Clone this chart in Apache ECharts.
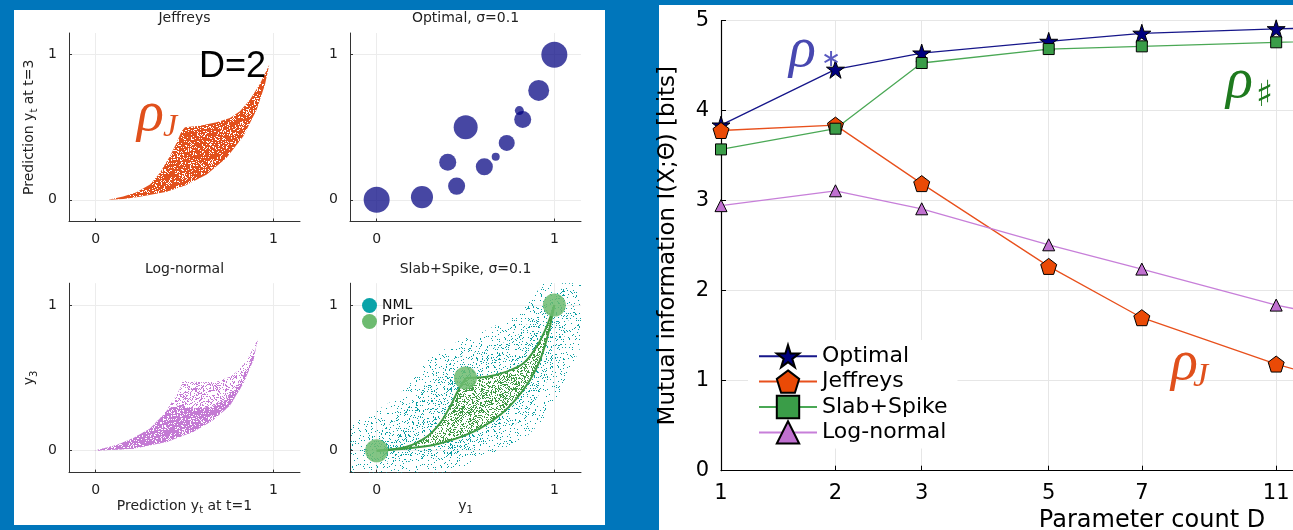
<!DOCTYPE html>
<html>
<head>
<meta charset="utf-8">
<script src="https://cdn.jsdelivr.net/npm/echarts@6/dist/echarts.min.js"></script>
<style>
  html, body { margin: 0; padding: 0; background: #0076bb; }
  #chart { width: 1293px; height: 530px; }
</style>
</head>
<body>
<div id="chart"></div>
<script>
// ---------- Main panel: mutual information vs parameter count ----------
const paramCounts = [1, 2, 3, 5, 7, 11, 15];
const optimalMI   = [3.84, 4.46, 4.64, 4.77, 4.86, 4.91, 4.93];
const jeffreysMI  = [3.78, 3.84, 3.19, 2.27, 1.70, 1.185, 0.88];
const slabSpikeMI = [3.57, 3.80, 4.53, 4.685, 4.715, 4.76, 4.79];
const logNormalMI = [2.945, 3.11, 2.91, 2.51, 2.24, 1.84, 1.62];
const countTicks  = [1, 2, 3, 5, 7, 11];

// ---------- Small panels (D=2): predictions at t=1 vs t=3 ----------
// Jeffreys prior: outline of the sampled region
const jeffreysRegion = [
  [0.071, 0.0], [0.155, 0.005], [0.249, 0.02], [0.40, 0.055], [0.507, 0.10],
  [0.625, 0.174], [0.737, 0.289], [0.831, 0.438], [0.906, 0.621], [0.953, 0.794],
  [0.977, 0.931], [0.925, 0.80], [0.868, 0.69], [0.812, 0.61], [0.756, 0.564],
  [0.681, 0.534], [0.587, 0.511], [0.503, 0.50], [0.483, 0.472], [0.455, 0.392],
  [0.418, 0.30], [0.362, 0.186], [0.306, 0.105], [0.23, 0.052], [0.155, 0.022]
];
// Optimal prior atoms: [y1, y3, weight]
const optimalAtoms = [
  [0.0, 0.0, 1.0], [0.255, 0.018, 0.72], [0.45, 0.094, 0.43], [0.40, 0.259, 0.43],
  [0.501, 0.50, 0.85], [0.606, 0.227, 0.43], [0.67, 0.296, 0.095], [0.732, 0.392, 0.38],
  [0.822, 0.553, 0.43], [0.803, 0.615, 0.12], [0.912, 0.754, 0.65], [1.0, 1.0, 1.0]
];
// Log-normal prior: full sampled region and its dense lower band
const logNormalRegion = [
  [-0.01, 0.0], [0.21, 0.013], [0.40, 0.06], [0.55, 0.13], [0.66, 0.21], [0.756, 0.31],
  [0.83, 0.46], [0.887, 0.62], [0.915, 0.77], [0.85, 0.62], [0.803, 0.55], [0.756, 0.508],
  [0.68, 0.474], [0.60, 0.47], [0.49, 0.48], [0.475, 0.428], [0.437, 0.348], [0.38, 0.245],
  [0.306, 0.153], [0.21, 0.085], [0.118, 0.04], [0.025, 0.01]
];
const logNormalCore = [
  [-0.01, 0.0], [0.21, 0.013], [0.40, 0.06], [0.55, 0.13], [0.66, 0.21], [0.756, 0.31],
  [0.83, 0.46], [0.887, 0.62], [0.915, 0.77], [0.90, 0.70], [0.86, 0.58], [0.80, 0.45],
  [0.73, 0.35], [0.65, 0.30], [0.55, 0.29], [0.46, 0.31], [0.41, 0.29], [0.38, 0.245],
  [0.306, 0.153], [0.21, 0.085], [0.118, 0.04], [0.025, 0.01]
];
// Slab+Spike: NML spread and prior support
const nmlOuter = [
  [-0.15, -0.15], [-0.15, 0.19], [-0.057, 0.233], [0.094, 0.347], [0.188, 0.462],
  [0.282, 0.622], [0.376, 0.692], [0.47, 0.76], [0.582, 0.806], [0.694, 0.875],
  [0.807, 0.943], [0.882, 1.06], [0.938, 1.15], [1.15, 1.15], [1.15, 0.716],
  [1.089, 0.555], [1.032, 0.395], [0.938, 0.212], [0.845, 0.097], [0.732, 0.028],
  [0.619, -0.04], [0.507, -0.098], [0.413, -0.15]
];
const nmlCore = [
  [-0.08, -0.06], [-0.06, 0.08], [0.1, 0.2], [0.25, 0.42], [0.38, 0.6], [0.5, 0.66],
  [0.65, 0.7], [0.8, 0.8], [0.92, 0.98], [1.05, 1.12], [1.1, 1.0], [1.05, 0.75],
  [0.97, 0.5], [0.87, 0.3], [0.75, 0.14], [0.6, 0.04], [0.4, -0.04], [0.15, -0.08]
];
const priorLeftCurve  = [[0, 0], [0.169, 0.027], [0.282, 0.096], [0.356, 0.188], [0.413, 0.302], [0.46, 0.417], [0.503, 0.50]];
const priorUpperCurve = [[0.503, 0.50], [0.619, 0.508], [0.732, 0.543], [0.826, 0.60], [0.90, 0.714], [0.957, 0.852], [1.0, 1.0]];
const priorLowerCurve = [[0, 0], [0.169, 0.016], [0.319, 0.039], [0.45, 0.085], [0.582, 0.154], [0.694, 0.245], [0.788, 0.36], [0.863, 0.486], [0.92, 0.623], [0.966, 0.806], [1.0, 1.0]];
const priorSpikes = [[0, 0], [0.5, 0.5], [1, 1]];
const unitTicks = [0, 1];

// ---------- helpers ----------
// horizontal position of a parameter count on the main axis
const countPos = d => Math.log((d + 1.6) / 2.6);
const countFromPos = v => Math.round(2.6 * Math.exp(v) - 1.6);
const countAxisMax = 1.626;   // right edge of the visible panel

const STAR = 'path://M0,-10L2.245,-3.09L9.511,-3.09L3.633,1.18L5.878,8.09L0,3.82L-5.878,8.09L-3.633,1.18L-9.511,-3.09L-2.245,-3.09Z';
const PENTAGON = 'path://M0,-10L9.511,-3.09L5.878,8.09L-5.878,8.09L-9.511,-3.09Z';
const SANS = 'DejaVu Sans';
const SERIF = 'Liberation Serif';

// speckled texture used to fill the sample clouds
function speckleHash(i, j) {
  let h = Math.imul(i, 374761393) + Math.imul(j, 668265263);
  h = Math.imul(h ^ (h >>> 13), 1274126177);
  h ^= h >>> 16;
  return (h >>> 0) / 4294967296;
}
function stipple(color, coverage) {
  const size = 64;
  const c = document.createElement('canvas');
  c.width = c.height = size;
  const g = c.getContext('2d');
  g.fillStyle = color;
  for (let j = 0; j < size; j++) {
    for (let i = 0; i < size; i++) {
      if (speckleHash(i, j) < coverage) g.fillRect(i, j, 1, 1);
    }
  }
  return { image: c, repeat: 'repeat' };
}

function regionSeries(name, grid, pts, fill, opacity, color, z) {
  return {
    type: 'custom', name, xAxisIndex: grid, yAxisIndex: grid, z: z || 2,
    silent: true, data: [0], itemStyle: { color },
    renderItem: (params, api) => ({
      type: 'polygon',
      shape: { points: pts.map(p => api.coord(p)) },
      style: { fill, opacity }
    })
  };
}

const subRich = {
  n: { fontSize: 14, fontFamily: SANS, color: '#222' },
  s: { fontSize: 10, fontFamily: SANS, color: '#222', padding: [9, 0, 0, 0] }
};
function smallAxis(grid, name, gap, margin) {
  return {
    gridIndex: grid, type: 'value', min: -0.15, max: 1.15,
    axisLine: { show: true, onZero: false, lineStyle: { color: '#333', width: 1 } },
    axisTick: { show: true, inside: true, length: 3, customValues: unitTicks, lineStyle: { color: '#333' } },
    axisLabel: { customValues: unitTicks, fontSize: 14, color: '#222', fontFamily: SANS, margin },
    splitLine: { show: true, lineStyle: { color: '#ececec', width: 1 } },
    name: name || '', nameLocation: 'middle', nameGap: gap,
    nameTextStyle: { rich: subRich }
  };
}

const mainLine = (name, values, symbol, size, lineColor, fill) => ({
  name, type: 'line', xAxisIndex: 4, yAxisIndex: 4,
  data: paramCounts.map((d, i) => [countPos(d), values[i]]),
  symbol, symbolSize: size, showSymbol: true,
  lineStyle: { color: lineColor, width: 1.3 },
  itemStyle: { color: fill, borderColor: '#000', borderWidth: 1 },
  clip: true
});

const txt = (x, y, text, o) => ({
  type: 'text', x, y, z: 100,
  style: Object.assign({ text, fill: '#222', fontFamily: SANS, fontSize: 14, align: 'center', verticalAlign: 'middle' }, o || {})
});

const chart = echarts.init(document.getElementById('chart'), null, { renderer: 'canvas' });
chart.setOption({
  animation: false,
  backgroundColor: '#0076bb',
  grid: [
    { left: 69, top: 33, width: 231, height: 188.5, outerBoundsMode: 'none' },
    { left: 350, top: 33, width: 231, height: 188.5, outerBoundsMode: 'none' },
    { left: 69, top: 283.2, width: 231, height: 189.4, outerBoundsMode: 'none' },
    { left: 350, top: 283.2, width: 231, height: 189.4, outerBoundsMode: 'none' },
    { left: 721, top: 20.7, width: 572, height: 450, outerBoundsMode: 'none' }
  ],
  xAxis: [
    smallAxis(0, '', 26, 11),
    smallAxis(1, '', 26, 11),
    smallAxis(2, '{n|Prediction y}{s|t}{n| at t=1}', 24, 11),
    smallAxis(3, '{n|y}{s|1}', 24, 11),
    {
      gridIndex: 4, type: 'value', min: 0, max: countAxisMax,
      axisLine: { show: true, onZero: false, lineStyle: { color: '#000', width: 1.2 } },
      axisTick: { show: true, inside: true, length: 5, customValues: countTicks.map(countPos), lineStyle: { color: '#000' } },
      axisLabel: { customValues: countTicks.map(countPos), formatter: v => String(countFromPos(v)), fontSize: 21, color: '#000', fontFamily: SANS, margin: 12 },
      splitLine: { show: true, lineStyle: { color: '#e6e6e6', width: 1 } },
      name: 'Parameter count D', nameLocation: 'middle', nameGap: 35,
      nameTextStyle: { fontSize: 24, fontFamily: SANS, color: '#000', padding: [0, 0, 0, 290] }
    }
  ],
  yAxis: [
    smallAxis(0, '{n|Prediction y}{s|t}{n| at t=3}', 30, 12),
    smallAxis(1, '', 30, 12),
    smallAxis(2, '{n|y}{s|3}', 30, 12),
    smallAxis(3, '', 30, 12),
    {
      gridIndex: 4, type: 'value', min: 0, max: 5, interval: 1,
      axisLine: { show: true, onZero: false, lineStyle: { color: '#000', width: 1.2 } },
      axisTick: { show: true, inside: true, length: 5, lineStyle: { color: '#000' } },
      axisLabel: { fontSize: 21, color: '#000', fontFamily: SANS, margin: 12 },
      splitLine: { show: true, lineStyle: { color: '#e6e6e6', width: 1 } },
      name: 'Mutual information I(X;Θ) [bits]', nameLocation: 'middle', nameGap: 41,
      nameTextStyle: { fontSize: 23, fontFamily: SANS, color: '#000' }
    }
  ],
  legend: [
    {
      data: ['Optimal', 'Jeffreys', 'Slab+Spike', 'Log-normal'],
      left: 748, top: 340, orient: 'vertical',
      itemWidth: 58, itemHeight: 28, itemGap: 1,
      backgroundColor: '#ffffff', padding: [4, 10, 4, 10],
      textStyle: { fontSize: 22, fontFamily: SANS, color: '#000' },
      selectedMode: false
    },
    {
      data: ['NML', 'Prior'],
      left: 362, top: 298, orient: 'vertical', icon: 'circle',
      itemWidth: 15, itemHeight: 15, itemGap: 1, padding: 0,
      textStyle: { fontSize: 14, fontFamily: SANS, color: '#111' },
      selectedMode: false
    }
  ],
  graphic: [
    { type: 'rect', z: -10, shape: { x: 14, y: 10, width: 591, height: 515 }, style: { fill: '#fff' } },
    { type: 'rect', z: -10, shape: { x: 659, y: 5, width: 634, height: 525 }, style: { fill: '#fff' } },
    txt(184.5, 18, 'Jeffreys'),
    txt(465.5, 18, 'Optimal, σ=0.1'),
    txt(184.5, 269, 'Log-normal'),
    txt(465.5, 269, 'Slab+Spike, σ=0.1'),
    txt(199, 67, 'D=2', { fontFamily: 'Liberation Sans', fontSize: 36, fill: '#000', align: 'left' }),
    txt(137, 115, 'ρ', { fontFamily: SERIF, fontStyle: 'italic', fontSize: 56, fill: '#e0501c', align: 'left' }),
    txt(163, 128, 'J', { fontFamily: SERIF, fontStyle: 'italic', fontSize: 32, fill: '#e0501c', align: 'left' }),
    txt(789, 51, 'ρ', { fontFamily: SERIF, fontStyle: 'italic', fontSize: 56, fill: '#4848b0', align: 'left' }),
    txt(821, 60, '∗', { fontFamily: SANS, fontSize: 24, fill: '#5a5ac0', align: 'left' }),
    txt(1226, 82, 'ρ', { fontFamily: SERIF, fontStyle: 'italic', fontSize: 56, fill: '#1e7a1e', align: 'left' }),
    txt(1256, 97, '♯', { fontFamily: SANS, fontSize: 36, fill: '#1e7a1e', align: 'left' }),
    txt(1171, 364, 'ρ', { fontFamily: SERIF, fontStyle: 'italic', fontSize: 56, fill: '#e0501c', align: 'left' }),
    txt(1193, 377, 'J', { fontFamily: SERIF, fontStyle: 'italic', fontSize: 34, fill: '#e0501c', align: 'left' })
  ],
  series: [
    // Jeffreys cloud
    regionSeries('Jeffreys cloud', 0, jeffreysRegion, stipple('#e2501c', 0.8), 1, '#e2501c'),
    // Optimal atoms
    {
      type: 'scatter', name: 'Optimal atoms', xAxisIndex: 1, yAxisIndex: 1,
      data: optimalAtoms, symbol: 'circle',
      symbolSize: v => 26 * Math.sqrt(v[2]),
      itemStyle: { color: '#000080', opacity: 0.72 }, silent: true
    },
    // Log-normal cloud
    regionSeries('Log-normal cloud', 2, logNormalRegion, stipple('#c47ad4', 0.3), 1, '#c47ad4'),
    regionSeries('Log-normal core', 2, logNormalCore, stipple('#c47ad4', 0.8), 1, '#c98bd9'),
    // Slab+Spike: NML samples and prior support
    regionSeries('NML', 3, nmlOuter, stipple('#0a9fa3', 0.08), 1, '#0aa3a8'),
    regionSeries('NML', 3, nmlCore, stipple('#0a9fa3', 0.16), 1, '#0aa3a8'),
    regionSeries('Prior', 3, priorLeftCurve.concat(priorUpperCurve.slice(1), priorLowerCurve.slice().reverse().slice(1)),
      stipple('#3f9a45', 0.36), 1, '#6dbb70', 3),
    ...[priorLeftCurve, priorUpperCurve, priorLowerCurve].map(curve => ({
      type: 'line', name: 'Prior', xAxisIndex: 3, yAxisIndex: 3, data: curve,
      smooth: 0.3, showSymbol: false, silent: true, z: 4,
      lineStyle: { color: '#3d9b44', width: 2 }, itemStyle: { color: '#6dbb70' }
    })),
    {
      type: 'scatter', name: 'Prior', xAxisIndex: 3, yAxisIndex: 3, data: priorSpikes,
      symbolSize: 23, itemStyle: { color: '#6dbb70', opacity: 0.85 }, z: 5, silent: true
    },
    // main panel curves
    mainLine('Optimal', optimalMI, STAR, 18, '#16168a', '#00007f'),
    mainLine('Jeffreys', jeffreysMI, PENTAGON, 16, '#e8501c', '#ea4a06'),
    mainLine('Slab+Spike', slabSpikeMI, 'rect', 11, '#4aa855', '#3a9d48'),
    mainLine('Log-normal', logNormalMI, 'triangle', 12, '#c77fd9', '#c070d0')
  ]
});
</script>
</body>
</html>
